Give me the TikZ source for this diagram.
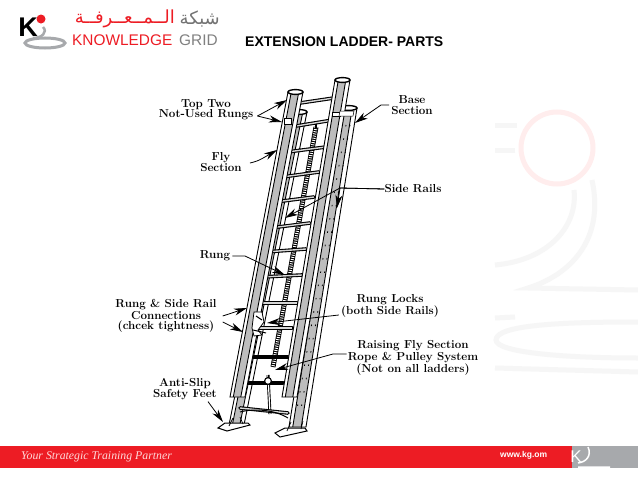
\documentclass[tikz,border=0pt]{standalone}
\usepackage{fontspec}
\setmainfont{Liberation Sans}
\newfontfamily\labfont{Latin Modern Roman}
\newfontfamily\arabfont[Script=Arabic]{DejaVu Sans}
\newfontfamily\sloganfont{Liberation Serif}
\TeXXeTstate=1
\usetikzlibrary{arrows.meta}
\definecolor{kgred}{HTML}{ED1C24}
\definecolor{kggray}{HTML}{A7A9AC}
\definecolor{railgray}{HTML}{BDBDBD}
\tikzset{
  lab/.style={font=\labfont\bfseries\fontsize{11.6}{10.4}\selectfont,align=center,inner sep=0pt,text=black},
  ptr/.style={line width=0.8pt,-{Stealth[length=13pt,width=7pt,inset=4pt]}},
  railline/.style={line width=0.9pt,black},
  rungstyle/.style={line width=3.6pt,black,line cap=round},
  rungcore/.style={line width=1.4pt,railgray!60!white},
  wm/.style={line width=5pt,draw=black!3.5}
}
\newcommand{\railbody}[5]{% x1 y1 x2 y2 w
  \fill[railgray] (#1,#2) -- ({#1+#5},#2) -- ({#3+#5},#4) -- (#3,#4) -- cycle;
  \fill[white] (#1,#2) -- ({#1+0.22*#5},#2) -- ({#3+0.22*#5},#4) -- (#3,#4) -- cycle;
  \fill[white] ({#1+0.72*#5},#2) -- ({#1+#5},#2) -- ({#3+#5},#4) -- ({#3+0.72*#5},#4) -- cycle;
  \draw[railline] (#1,#2) -- (#3,#4) -- ({#3+#5},#4) -- ({#1+#5},#2);
  \draw[railline] ({#1+0.22*#5},#2) -- ({#3+0.22*#5},#4);
  \draw[railline] ({#1+0.72*#5},#2) -- ({#3+0.72*#5},#4);
  \draw[line width=1.4pt,fill=white] ({#1+0.5*#5},#2) ellipse ({0.5*#5} and 2.4);
}
\newcommand{\rungbar}[4]{%
  \draw[rungstyle] (#1,#2) -- (#3,#4);
  \draw[rungcore] (#1,#2) -- (#3,#4);
}
\begin{document}
\begin{tikzpicture}[x=1pt,y=-1pt]
\useasboundingbox (0,0) rectangle (638,479);
\fill[white] (0,0) rectangle (638,479);
% watermark
\draw[line width=5pt,draw=red!7!white] (557,148) circle (36);
\draw[wm] (495,125) -- (517,125) (515,150) -- (495,150);
\draw[wm] (574,190) .. controls (578,225) and (550,260) .. (495,265);
\draw[wm] (592,180) .. controls (605,240) and (570,275) .. (528,288) -- (638,290);
\draw[wm] (638,322) .. controls (560,322) and (496,325) .. (496,340) .. controls (496,352) and (560,358) .. (638,358);
\draw[wm] (495,318) -- (515,317) (495,368) -- (638,372);
% logo
\draw[line width=3pt,kggray] (45,43) ellipse (20 and 5);
\draw[line width=2.5pt,kggray] (43,27) .. controls (48,32) and (42,38) .. (33,38);
\node[name=logok,inner sep=0pt,text=black] at (28,27) {\fontsize{27}{27}\selectfont\bfseries K};
\fill[kgred] (41,19) circle (4.5);
\node (arred) [inner sep=0pt,text=kgred,anchor=east] at (175,19) {\arabfont\fontsize{18}{18}\selectfont\beginR الــمــعــرفــة\endR};
\node (argray) [inner sep=0pt,text=black!55,anchor=east] at (220,19) {\arabfont\fontsize{18}{18}\selectfont\beginR شبكة\endR};
\node (kn) [inner sep=0pt,text=kgred,anchor=west] at (72,40) {\fontsize{15.4}{15}\selectfont KNOWLEDGE};
\node (gr) [inner sep=0pt,text=black!50,anchor=west] at (179,40) {\fontsize{15.4}{15}\selectfont GRID};
% title
\node (title) [inner sep=0pt,anchor=west] at (245,42) {\fontsize{14}{14}\selectfont\bfseries EXTENSION LADDER- PARTS};
% bottom bar
\fill[kgred] (0,446) rectangle (572,468);
\fill[kggray] (572,446) rectangle (638,468);
\node (slogan) [inner sep=0pt,anchor=west,text=red!15!white] at (21,456.5) {\sloganfont\itshape\fontsize{11.8}{12}\selectfont Your Strategic Training Partner};
\node (web) [inner sep=0pt,anchor=west,text=white] at (500,455.5) {\fontsize{8.5}{9}\selectfont\bfseries www.kg.om};
\node (wk) [inner sep=0pt,text=white] at (576,457) {\fontsize{17}{17}\selectfont K};
\draw[line width=1.5pt,white] (588,447) .. controls (592,456) and (586,462) .. (578,463) (578,467) -- (610,467);
% ladder: base section rails
\railbody{340}{108}{289}{427}{17}
\draw[line width=0.8pt,dash pattern=on 1.5pt off 12pt] (350,125) -- (300,415);
\draw[line width=0.8pt,dash pattern=on 1.5pt off 12pt] (346,125) -- (296,415);
\railbody{292}{112}{229}{425}{15}
% rope
\draw[line width=5pt,black] (316,127) -- (273,367);
\draw[line width=3.4pt,white,dash pattern=on 0.9pt off 1.3pt] (316,127) -- (273,367);
\draw[line width=1.2pt,black] (316,122) -- (316,128);
\draw[line width=3pt,black] (268,375) -- (270,414);
\draw[line width=1.2pt,white] (268,375) -- (270,414);
% rungs
\rungbar{300}{103}{334}{98}
\rungbar{290}{127}{333}{120}
\rungbar{287}{152}{326}{147}
\rungbar{282}{177}{319}{172}
\rungbar{275}{202}{314}{197}
\rungbar{270}{228}{310}{223}
\rungbar{265}{252}{306}{249}
\rungbar{262}{277}{302}{275}
\rungbar{255}{303}{297}{303}
\rungbar{253}{328}{292}{328}
\draw[rungstyle] (247,357) -- (288,357);
\draw[rungstyle] (242,383) -- (283,383);
\rungbar{240}{408}{288}{413}
% fly section rails
\railbody{288}{92}{230}{397}{15}
\railbody{335}{80}{282}{397}{15}
% white collars on rail tops
\fill[white,draw=black,line width=0.5pt] (284,118) rectangle (291,124);
\fill[white,draw=black,line width=0.5pt] (332,112) rectangle (340,116);
\fill[white,draw=black,line width=0.5pt] (340,111) -- (354,111) -- (353,116) -- (339,116) -- cycle;
% rung lock
\draw[line width=0.8pt,fill=white] (254,312) -- (262,312) -- (264,322) -- (258,330) -- (262,335) -- (254,336) -- (252,328) -- cycle;
\draw[line width=1pt] (256,316) -- (262,320) (253,330) -- (266,333);
% pulley
\draw[line width=1.1pt,fill=white] (268,381) circle (3.4);
\draw[line width=1pt] (268,375) -- (268,378);
% feet
\draw[line width=1pt,fill=white] (218,428) -- (225,423) -- (248,423) -- (250,425) -- (227,431) -- cycle;
\draw[line width=0.7pt] (229,426) -- (233,418) (243,424) -- (240,417);
\draw[line width=1pt,fill=white] (275,433) -- (285,428) -- (305,428) -- (307,431) -- (280,437) -- cycle;
\draw[line width=0.7pt] (287,431) -- (291,422) (301,429) -- (303,421);
% base foot curve
\draw[line width=1pt] (240,412) .. controls (255,408) and (275,410) .. (288,418);
% labels
\node (ltop) [lab] at (206,110) {Top Two\\Not-Used Rungs};
\node (lfly) [lab] at (221,162) {Fly\\Section};
\node (lbase) [lab] at (412,105) {Base\\Section};
\node (lside) [lab] at (413,189) {Side Rails};
\node (lrung) [lab] at (215,256) {Rung};
\node (lconn) [lab] at (166,316) {Rung \& Side Rail\\Connections\\(chcek tightness)};
\node (llock) [lab] at (390,306) {Rung Locks\\(both Side Rails)};
\node (lrais) [lab] at (413,358) {Raising Fly Section\\Rope \& Pulley System\\(Not on all ladders)};
\node (lanti) [lab] at (185,389) {Anti-Slip\\Safety Feet};
% connector ends
\coordinate (ttop1) at (287,100);
\coordinate (ttop2) at (282,122);
\coordinate (tfly) at (277,150);
\coordinate (tbase) at (355,123);
\coordinate (tside1) at (285,218);
\coordinate (tside2) at (337,208);
\coordinate (jside) at (340,188);
\coordinate (trung) at (285,275);
\coordinate (tconn1) at (247,308);
\coordinate (tconn2) at (243,332);
\coordinate (tlock) at (267,323);
\coordinate (trais) at (275,370);
\coordinate (tanti) at (223,422);
% connectors
\draw[ptr] (ltop.east) ++(4,6) -- (ttop1);
\draw[ptr] (ltop.east) ++(4,6) -- (ttop2);
\draw[ptr] (lfly.east) ++(8,1) .. controls (258,161) .. (tfly);
\draw[ptr] (lbase.west) ++(-2,0) -- (381,105) -- (tbase);
\draw[ptr] (lside.west) -- (jside) -- (tside1);
\draw[ptr] (lside.west) -- (jside) -- (tside2);
\draw[ptr] (lrung.east) ++(2,0) -- (245,256) -- (trung);
\draw[ptr] (lconn.east) ++(6,0) -- (tconn1);
\draw[ptr] (lconn.east) ++(6,6) -- (tconn2);
\draw[ptr] (llock.west) ++(-2,9) -- (tlock);
\draw[ptr] (lrais.west) ++(-1,-4) -- (333,354) -- (trais);
\draw[ptr] (lanti.south) ++(23,2) -- (tanti);
\end{tikzpicture}
\end{document}
